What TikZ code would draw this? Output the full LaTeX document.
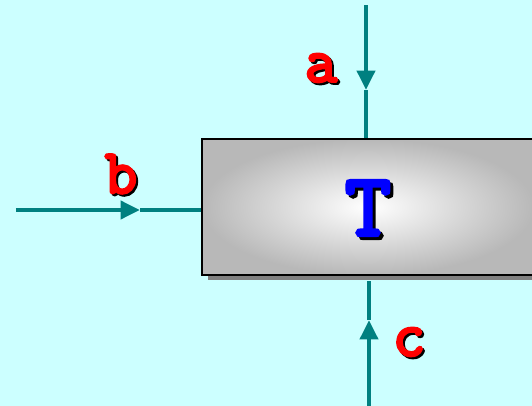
\documentclass[tikz,border=0pt]{standalone}
\usepackage{fontspec}
\newfontfamily\slabfont[FakeBold=4]{Latin Modern Mono}
\usetikzlibrary{positioning, arrows.meta, shadows}
\definecolor{sky}{HTML}{CCFFFF}
\definecolor{stream}{HTML}{008080}
\definecolor{boxedge}{HTML}{B8B8B8}
\definecolor{shade}{HTML}{808080}

\begin{document}
\begin{tikzpicture}[
  x=0.02cm, y=-0.02cm,
  flow/.style={draw=stream, line width=2.8pt},
  tip/.style={-{Triangle[length=11pt, width=10pt]}},
  lbl/.style={font=\slabfont\fontsize{36}{36}\selectfont, text=red, inner sep=0pt},
  lblsh/.style={lbl, text=black},
  unit/.style={rectangle, draw=black, line width=1.1pt, inner color=white, outer color=boxedge,
    minimum width=332*0.02cm, minimum height=136*0.02cm,
    drop shadow={shadow xshift=0.12cm, shadow yshift=-0.1cm, opacity=1, fill=shade}}
]
  \useasboundingbox (0,0) rectangle (532,406);
  \clip (0,0) rectangle (532,406);
  \fill[sky] (0,0) rectangle (532,406);

  % the unit
  \node[unit] (box) at (368,207) {};
  \node[font=\slabfont\fontsize{51}{51}\selectfont, text=black, inner sep=0pt] (Tsh) at (371,211) {T};
  \node[font=\slabfont\fontsize{51}{51}\selectfont, text=blue, inner sep=0pt] (T) at (368,208) {T};

  % stream ends
  \coordinate (atop) at (366,5);
  \coordinate (amid) at (366,90);
  \coordinate (bleft) at (16,210);
  \coordinate (bmid) at (140,210);
  \coordinate (cbot) at (369,406);
  \coordinate (cmid) at (369,320);

  % streams
  \draw[flow, tip] (atop) -- (amid);
  \draw[flow] (amid) -- (box.north -| amid);
  \draw[flow, tip] (bleft) -- (bmid);
  \draw[flow] (bmid) -- (box.west |- bmid);
  \draw[flow, tip] (cbot) -- (cmid);
  \draw[flow] (cmid) -- ([yshift=-0.1cm]box.south -| cmid);

  % labels
  \node[lblsh] (ash) at (323,70) {a};
  \node[lbl] (a) at (321,68) {a};
  \node[lblsh] (bsh) at (123,176) {b};
  \node[lbl] (b) at (121,174) {b};
  \node[lblsh] (csh) at (411,344) {c};
  \node[lbl] (c) at (409,342) {c};
\end{tikzpicture}
\end{document}
